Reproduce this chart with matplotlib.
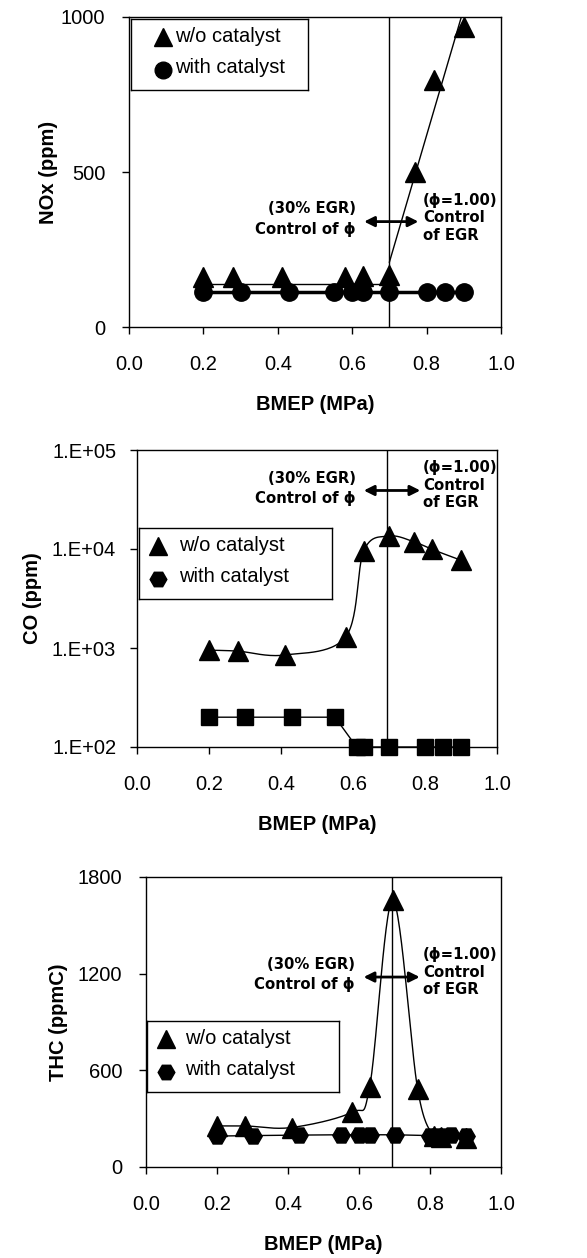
import matplotlib
matplotlib.use('Agg')
import matplotlib.pyplot as plt
import numpy as np

# NOx panel data
nox_wo_x = [0.20, 0.28, 0.41, 0.58, 0.63, 0.70, 0.77, 0.82, 0.90]
nox_wo_y = [162, 162, 162, 162, 165, 168, 500, 796, 968]
nox_wo_low_fit = 140
nox_cat_x = [0.20, 0.30, 0.43, 0.55, 0.60, 0.63, 0.70, 0.80, 0.85, 0.90]
nox_cat_y = [114, 114, 114, 114, 114, 114, 114, 114, 114, 114]

# CO panel data
co_wo_x = [0.20, 0.28, 0.41, 0.58, 0.63, 0.70, 0.77, 0.82, 0.90]
co_wo_y = [950, 930, 850, 1300, 9600, 13500, 11800, 9900, 7700]
co_cat_x = [0.20, 0.30, 0.43, 0.55, 0.61, 0.63, 0.70, 0.80, 0.85, 0.90]
co_cat_y = [200, 200, 200, 200, 100, 100, 100, 100, 100, 100]

# THC panel data
thc_wo_x = [0.20, 0.28, 0.41, 0.58, 0.63, 0.695, 0.765, 0.81, 0.83, 0.90]
thc_wo_y = [255, 255, 245, 340, 497, 1655, 486, 190, 185, 178]
thc_cat_x = [0.20, 0.30, 0.43, 0.55, 0.60, 0.63, 0.70, 0.80, 0.82, 0.84, 0.86, 0.90]
thc_cat_y = [192, 195, 198, 200, 200, 200, 200, 195, 195, 195, 198, 195]

W, H = 587, 1258
fig = plt.figure(figsize=(W / 100, H / 100), dpi=100)

tick_font = 'Liberation Sans'
note_font = 'DejaVu Sans'


def smooth(x, y, n=30):
    # Catmull-Rom style smoothing like a spreadsheet "smoothed line"
    x = np.asarray(x, float)
    y = np.asarray(y, float)
    px = np.concatenate([[x[0]], x, [x[-1]]])
    py = np.concatenate([[y[0]], y, [y[-1]]])
    xs, ys = [], []
    t = np.linspace(0, 1, n)
    for i in range(1, len(px) - 2):
        p0, p1, p2, p3 = (np.array([px[j], py[j]]) for j in range(i - 1, i + 3))
        c1 = p1 + (p2 - p0) / 6
        c2 = p2 - (p3 - p1) / 6
        b = ((1 - t) ** 3)[:, None] * p1 + (3 * (1 - t) ** 2 * t)[:, None] * c1 \
            + (3 * (1 - t) * t ** 2)[:, None] * c2 + (t ** 3)[:, None] * p2
        xs.extend(b[:, 0])
        ys.extend(b[:, 1])
    return np.array(xs), np.array(ys)


def make_ax(left, top, right, bottom):
    ax = fig.add_axes([left / W, 1 - bottom / H, (right - left) / W, (bottom - top) / H])
    ax.set_xlim(0, 1.0)
    ax.set_xticks([0.0, 0.2, 0.4, 0.6, 0.8, 1.0])
    ax.set_xticklabels(['0.0', '0.2', '0.4', '0.6', '0.8', '1.0'])
    ax.tick_params(direction='out', length=5, width=1, labelsize=14.5)
    ax.tick_params(axis='x', pad=15)
    ax.tick_params(axis='y', pad=12)
    for s in ax.spines.values():
        s.set_linewidth(1)
    ax.set_xlabel('BMEP (MPa)', fontsize=14.5, fontweight='bold',
                  fontfamily=tick_font, labelpad=15)
    return ax


def fonts(ax):
    for lab in ax.get_xticklabels() + ax.get_yticklabels():
        lab.set_fontfamily(tick_font)


def notes(ax, xv, arrow, left_txt, right_txt):
    ax.axvline(xv, color='black', lw=1)
    ax.annotate('', xy=(arrow[1], arrow[2]), xytext=(arrow[0], arrow[2]),
                arrowprops=dict(arrowstyle='<|-|>', color='black', lw=2,
                                mutation_scale=15, shrinkA=0, shrinkB=0))
    ax.text(left_txt[0], left_txt[1], '(30% EGR)\nControl of \u03d5', ha='right',
            va='center', fontsize=10.7, fontweight='bold', fontfamily=note_font,
            linespacing=1.45)
    ax.text(right_txt[0], right_txt[1], '(\u03d5=1.00)\nControl\nof EGR', ha='left',
            va='center', fontsize=10.7, fontweight='bold', fontfamily=note_font,
            linespacing=1.2)


def legend_box(ax, box, cat_marker, mx, tx):
    x0, y0, x1, y1 = box
    lax = fig.add_axes([x0 / W, 1 - y1 / H, (x1 - x0) / W, (y1 - y0) / H])
    lax.set_xlim(0, 1)
    lax.set_ylim(0, 1)
    lax.set_xticks([])
    lax.set_yticks([])
    for s in lax.spines.values():
        s.set_linewidth(1)
    lax.plot([mx], [0.74], marker='^', color='black', ms=13, ls='none')
    lax.plot([mx], [0.28], marker=cat_marker, color='black', ms=12, ls='none')
    lax.text(tx, 0.76, 'w/o catalyst', va='center', fontsize=14.5, fontfamily=tick_font)
    lax.text(tx, 0.31, 'with catalyst', va='center', fontsize=14.5, fontfamily=tick_font)


# ---- NOx ----
ax1 = make_ax(129, 17, 501, 327)
ax1.set_ylim(0, 1000)
ax1.set_yticks([0, 500, 1000])
fonts(ax1)
ax1.set_ylabel('NOx (ppm)', fontsize=14.5, fontweight='bold', fontfamily=tick_font, labelpad=2)
ax1.plot([0.18, 0.72], [nox_wo_low_fit, nox_wo_low_fit], color='black', lw=1)
hi = np.array(nox_wo_x[5:])
coef = np.polyfit(hi, nox_wo_y[5:], 1)
ax1.plot(hi, np.polyval(coef, hi), color='black', lw=1)
ax1.plot(nox_wo_x, nox_wo_y, '^', color='black', ms=14, clip_on=False)
ax1.plot(nox_cat_x, nox_cat_y, 'o-', color='black', lw=2.5, ms=12.5, clip_on=False)
notes(ax1, 0.70, (0.632, 0.778, 340), (0.61, 348), (0.79, 352))
legend_box(ax1, (131, 19, 308, 90), 'o', 0.18, 0.25)

# ---- CO ----
ax2 = make_ax(137, 450, 497, 747)
ax2.set_yscale('log')
ax2.set_ylim(100, 1e5)
ax2.set_yticks([1e2, 1e3, 1e4, 1e5])
ax2.set_yticklabels(['1.E+02', '1.E+03', '1.E+04', '1.E+05'])
ax2.minorticks_off()
ax2.tick_params(axis='y', pad=10)
fonts(ax2)
ax2.set_ylabel('CO (ppm)', fontsize=14.5, fontweight='bold', fontfamily=tick_font, labelpad=7)
sx, sy = smooth(co_wo_x, np.log10(co_wo_y))
ax2.plot(sx, 10 ** sy, color='black', lw=1)
ax2.plot(co_wo_x, co_wo_y, '^', color='black', ms=14, clip_on=False)
ax2.plot(co_cat_x, co_cat_y, 's-', color='black', lw=1, ms=11, clip_on=False)
notes(ax2, 0.695, (0.63, 0.787, 3.9e4), (0.607, 4.1e4), (0.794, 4.4e4))
legend_box(ax2, (139, 528, 332, 599), 'H', 0.10, 0.21)

# ---- THC ----
ax3 = make_ax(146, 877, 501, 1167)
ax3.set_ylim(0, 1800)
ax3.set_yticks([0, 600, 1200, 1800])
fonts(ax3)
ax3.set_ylabel('THC (ppmC)', fontsize=14.5, fontweight='bold', fontfamily=tick_font, labelpad=7)
sx, sy = smooth(thc_wo_x, thc_wo_y)
ax3.plot(sx, sy, color='black', lw=1)
ax3.plot(thc_wo_x, thc_wo_y, '^', color='black', ms=14, clip_on=False)
ax3.plot(thc_cat_x, thc_cat_y, 'H-', color='black', lw=1, ms=12.5, clip_on=False)
notes(ax3, 0.692, (0.613, 0.771, 1179), (0.589, 1196), (0.78, 1210))
legend_box(ax3, (147, 1021, 339, 1092), 'H', 0.10, 0.20)

fig.savefig('out.png', dpi=100)
